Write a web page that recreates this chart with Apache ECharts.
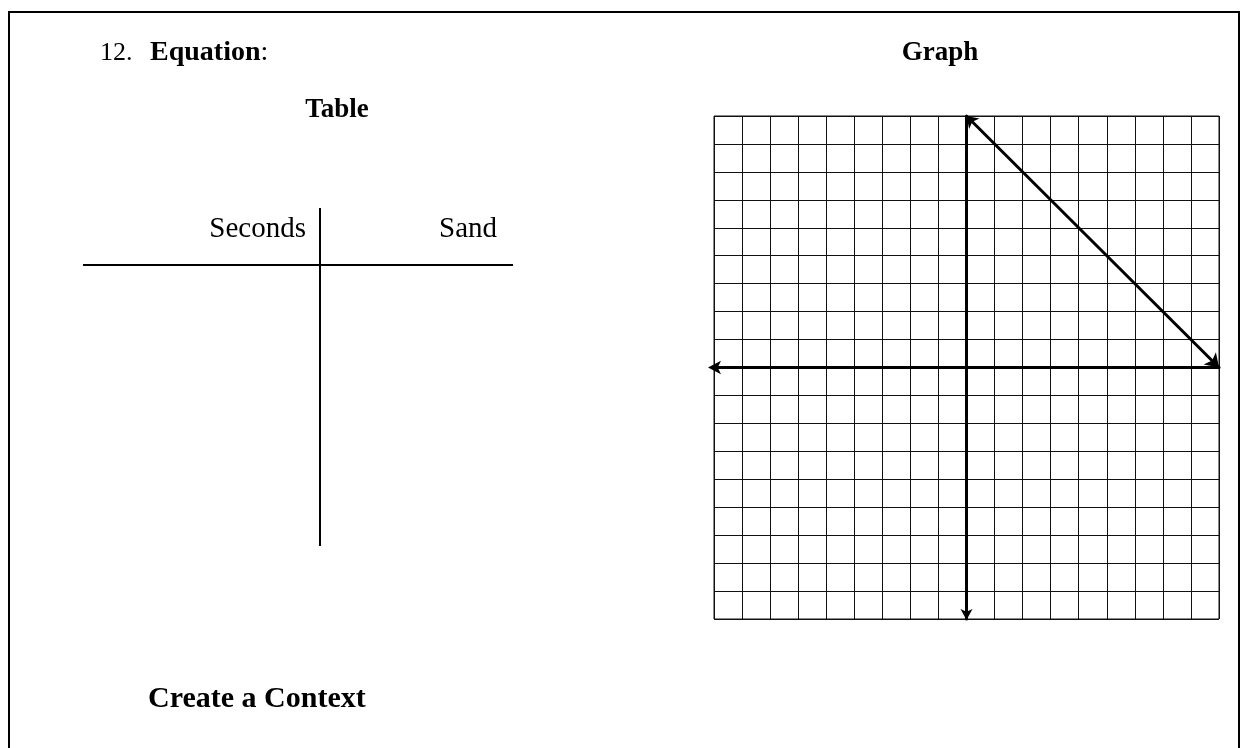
<!DOCTYPE html>
<html>
<head>
<meta charset="utf-8">
<script src="https://cdn.jsdelivr.net/npm/echarts@6/dist/echarts.min.js"></script>
<style>
  html, body { margin: 0; padding: 0; background: #fff; }
  #main { width: 1242px; height: 748px; }
</style>
</head>
<body>
<div id="main"></div>
<script>
// axis range of the coordinate grid (-9 .. 9, one square per unit)
const axisMin = -9;
const axisMax = 9;
const axisStep = 1;

// the drawn line: from (0, 9) to (9, 0)
const lineX = [0, 9];
const lineY = [9, 0];

// t-chart headings
const tableHeads = ["Seconds", "Sand"];

const serif = '"Liberation Serif", "DejaVu Serif", serif';
const chart = echarts.init(document.getElementById("main"));

const gridAxis = {
  type: "value",
  min: axisMin,
  max: axisMax,
  interval: axisStep,
  axisLabel: { show: false },
  axisTick: { show: false },
  splitLine: { show: true, lineStyle: { color: "#111", width: 1 } },
};

chart.setOption({
  backgroundColor: "#fff",
  animation: false,
  grid: {
    left: 714,
    top: 116,
    width: 505,
    height: 503,
    show: true,
    borderColor: "#111",
    borderWidth: 1,
  },
  xAxis: Object.assign({}, gridAxis, {
    axisLine: {
      onZero: true,
      symbol: ["arrow", "none"],
      symbolSize: [10, 13],
      symbolOffset: [-6, 0],
      lineStyle: { color: "#000", width: 3 },
    },
  }),
  yAxis: Object.assign({}, gridAxis, {
    axisLine: {
      onZero: true,
      symbol: ["arrow", "none"],
      symbolSize: [9, 11],
      symbolOffset: [-1, 0],
      lineStyle: { color: "#000", width: 3 },
    },
  }),
  series: [
    {
      type: "lines",
      coordinateSystem: "cartesian2d",
      clip: false,
      symbol: ["arrow", "arrow"],
      symbolSize: [11, 13],
      lineStyle: { color: "#000", width: 3, opacity: 1, curveness: 0 },
      data: [
        {
          coords: lineX.map((x, i) => [x, lineY[i]]),
        },
      ],
      z: 5,
    },
  ],
  graphic: [
    // page frame (open at the bottom)
    {
      type: "rect",
      shape: { x: 9, y: 12, width: 1230, height: 800 },
      style: { fill: "none", stroke: "#000", lineWidth: 2 },
      silent: true,
    },
    {
      type: "text",
      style: { text: "12.", x: 100, y: 53, font: "26px " + serif, fill: "#000", textVerticalAlign: "middle" },
    },
    {
      type: "text",
      style: {
        text: "{b|Equation}{r|:}",
        x: 150,
        y: 53,
        textVerticalAlign: "middle",
        rich: {
          b: { font: "bold 28px " + serif, fill: "#000" },
          r: { font: "28px " + serif, fill: "#000" },
        },
      },
    },
    {
      type: "text",
      style: { text: "Graph", x: 940, y: 53, font: "bold 27px " + serif, fill: "#000", textAlign: "center", textVerticalAlign: "middle" },
    },
    {
      type: "text",
      style: { text: "Table", x: 337, y: 110, font: "bold 27px " + serif, fill: "#000", textAlign: "center", textVerticalAlign: "middle" },
    },
    {
      type: "text",
      style: { text: tableHeads[0], x: 306, y: 229, font: "29px " + serif, fill: "#000", textAlign: "right", textVerticalAlign: "middle" },
    },
    {
      type: "text",
      style: { text: tableHeads[1], x: 497, y: 229, font: "29px " + serif, fill: "#000", textAlign: "right", textVerticalAlign: "middle" },
    },
    // t-chart lines
    {
      type: "line",
      shape: { x1: 320, y1: 208, x2: 320, y2: 546 },
      style: { stroke: "#000", lineWidth: 2 },
    },
    {
      type: "line",
      shape: { x1: 83, y1: 265, x2: 513, y2: 265 },
      style: { stroke: "#000", lineWidth: 2 },
    },
    {
      type: "text",
      style: { text: "Create a Context", x: 148, y: 699, font: "bold 30px " + serif, fill: "#000", textVerticalAlign: "middle" },
    },
  ],
});
</script>
</body>
</html>
